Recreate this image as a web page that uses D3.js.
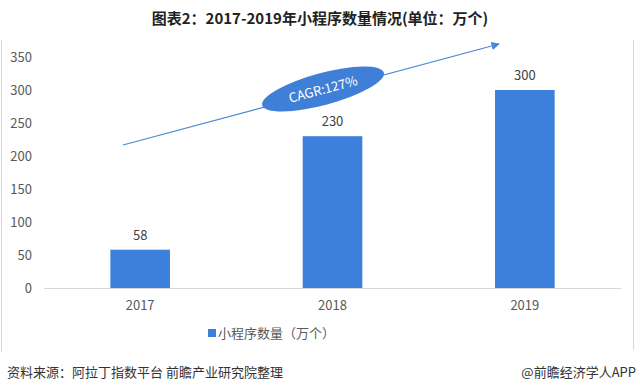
<!DOCTYPE html>
<html>
<head>
    <meta charset="utf-8">
    <script src="https://cdn.jsdelivr.net/npm/d3@7/dist/d3.min.js"></script>
    <style>
        body { margin: 0; background: white; }
        svg { display: block; font-family: "Microsoft YaHei", "Noto Sans CJK SC", sans-serif; }
    </style>
</head>
<body>
    <div id="chart"></div>
    <script>
        // chart data
        const years = ["2017", "2018", "2019"];
        const counts = [58, 230, 300];
        const yTicks = [0, 50, 100, 150, 200, 250, 300, 350];
        const seriesName = "小程序数量（万个）";
        const titleText = "图表2：2017-2019年小程序数量情况(单位：万个)";
        const cagrText = "CAGR:127%";
        const sourceText = "资料来源：阿拉丁指数平台 前瞻产业研究院整理";
        const brandText = "@前瞻经济学人APP";

        const width = 640;
        const height = 388;
        const barColor = "#3d80dc";

        const svg = d3.select("#chart")
            .append("svg")
            .attr("width", width)
            .attr("height", height);

        // faint frame sides
        svg.append("line").attr("x1", 1.5).attr("x2", 1.5).attr("y1", 40).attr("y2", 352)
            .attr("stroke", "#d9d9d9");
        svg.append("line").attr("x1", 633.5).attr("x2", 633.5).attr("y1", 40).attr("y2", 350)
            .attr("stroke", "#d9d9d9");

        svg.append("text")
            .attr("x", 320).attr("y", 24)
            .attr("text-anchor", "middle")
            .attr("font-size", 15).attr("font-weight", "bold")
            .attr("fill", "#222")
            .text(titleText);

        const x = d3.scaleBand()
            .domain(years)
            .range([44, 621])
            .paddingInner(0.69)
            .paddingOuter(0.345);

        const y = d3.scaleLinear()
            .domain([0, 350])
            .range([288, 57]);

        // y tick labels (no axis line)
        svg.append("g").selectAll("text")
            .data(yTicks)
            .join("text")
            .attr("x", 32)
            .attr("y", d => y(d) + 5)
            .attr("text-anchor", "end")
            .attr("font-size", 13)
            .attr("fill", "#595959")
            .text(d => d);

        // baseline
        svg.append("line")
            .attr("x1", 44).attr("x2", 621)
            .attr("y1", y(0) + 0.5).attr("y2", y(0) + 0.5)
            .attr("stroke", "#d9d9d9");

        svg.append("g").selectAll("rect")
            .data(counts)
            .join("rect")
            .attr("x", (d, i) => x(years[i]))
            .attr("y", d => y(d))
            .attr("width", x.bandwidth())
            .attr("height", d => y(0) - y(d))
            .attr("fill", barColor);

        svg.append("g").selectAll("text")
            .data(counts)
            .join("text")
            .attr("x", (d, i) => x(years[i]) + x.bandwidth() / 2)
            .attr("y", d => y(d) - 10)
            .attr("text-anchor", "middle")
            .attr("font-size", 13)
            .attr("fill", "#404040")
            .text(d => d);

        svg.append("g").selectAll("text")
            .data(years)
            .join("text")
            .attr("x", d => x(d) + x.bandwidth() / 2)
            .attr("y", 310)
            .attr("text-anchor", "middle")
            .attr("font-size", 13)
            .attr("fill", "#595959")
            .text(d => d);

        // legend
        const legend = svg.append("g").attr("transform", "translate(208, 334)");
        legend.append("rect")
            .attr("x", 0).attr("y", -5)
            .attr("width", 8).attr("height", 8)
            .attr("fill", barColor);
        legend.append("text")
            .attr("x", 10).attr("y", 4)
            .attr("font-size", 13)
            .attr("fill", "#595959")
            .text(seriesName);

        // growth arrow with CAGR ellipse
        const defs = svg.append("defs");
        defs.append("marker")
            .attr("id", "arrow")
            .attr("viewBox", "0 0 10 10")
            .attr("refX", 9).attr("refY", 5)
            .attr("markerWidth", 7).attr("markerHeight", 7)
            .attr("orient", "auto")
            .append("path")
            .attr("d", "M0,0 L10,5 L0,10 Z")
            .attr("fill", "#4a86d8");

        const p0 = [123, 145], p1 = [499, 44];
        svg.append("line")
            .attr("x1", p0[0]).attr("y1", p0[1])
            .attr("x2", p1[0]).attr("y2", p1[1])
            .attr("stroke", "#4a86d8")
            .attr("stroke-width", 1.2)
            .attr("marker-end", "url(#arrow)");

        const angle = Math.atan2(p1[1] - p0[1], p1[0] - p0[0]) * 180 / Math.PI;
        const badge = svg.append("g")
            .attr("transform", `translate(323, 89) rotate(${angle})`);
        badge.append("ellipse")
            .attr("rx", 63).attr("ry", 16)
            .attr("fill", "#3f7fd8");
        badge.append("text")
            .attr("y", 5)
            .attr("text-anchor", "middle")
            .attr("font-size", 13)
            .attr("fill", "white")
            .text(cagrText);

        // footer
        svg.append("text")
            .attr("x", 7).attr("y", 377)
            .attr("font-size", 13)
            .attr("fill", "#333")
            .text(sourceText);
        svg.append("text")
            .attr("x", 636).attr("y", 377)
            .attr("text-anchor", "end")
            .attr("font-size", 13)
            .attr("fill", "#333")
            .text(brandText);
    </script>
</body>
</html>
